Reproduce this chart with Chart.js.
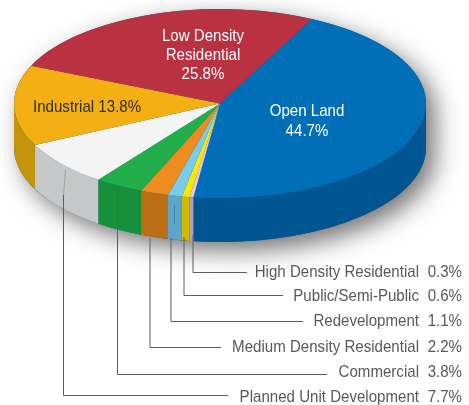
<!DOCTYPE html>
<html><head><meta charset="utf-8">
<style>html,body{margin:0;padding:0;background:#fff}canvas{display:block}</style>
<script src="https://cdn.jsdelivr.net/npm/chart.js@4/dist/chart.umd.min.js"></script>
</head><body><canvas id="c" width="469" height="405"></canvas>
<script>
const categories = ["Open Land","High Density Residential","Public/Semi-Public","Redevelopment","Medium Density Residential","Commercial","Planned Unit Development","Industrial","Low Density Residential"];
const shares = [44.7,0.3,0.6,1.1,2.2,3.8,7.7,13.8,25.8];
const topColors = ["#016FB7","#EFC5D8","#F7E900","#77CBEF","#EE8D1E","#22AE4B","#F4F4F4","#F4B013","#BA3142"];
const wallColors = ["#005591","#C09BB3","#CDBB00","#5DA5C9","#BC6F12","#17903C","#C5C7C9","#C6930C","#8E2532"];
const calloutOrder = ["High Density Residential","Public/Semi-Public","Redevelopment","Medium Density Residential","Commercial","Planned Unit Development"];

const E = {cx:220, cy:103.5, rx:206, ry:94.5, depth:44};
const FONT = '"Liberation Sans",Arial,sans-serif';
const NARROW = 0.887;
const callouts = [
  {x:193,top:235,y:272,end:247,base:277},
  {x:184,top:237,y:295,end:283,base:301},
  {x:171,top:238,y:321,end:303,base:326},
  {x:150,top:238,y:347,end:221,base:352},
  {x:117.5,top:223,y:374,end:327,base:377},
  {x:63.5,top:195,y:395,end:228,base:402}
];
const pct = n => shares[categories.indexOf(n)].toFixed(1)+'%';

function label(ctx,str,x,y,align){
  ctx.save();
  ctx.translate(x,y);
  ctx.scale(NARROW,1);
  ctx.textAlign=align;
  ctx.fillText(str,0,0);
  ctx.restore();
}
function bodyPath(ctx){
  ctx.beginPath();
  ctx.ellipse(E.cx,E.cy,E.rx,E.ry,0,Math.PI,0,false);
  ctx.lineTo(E.cx+E.rx,E.cy+E.depth);
  ctx.ellipse(E.cx,E.cy+E.depth,E.rx,E.ry,0,0,Math.PI,false);
  ctx.closePath();
}
const pie3d = {
  id:'pie3d',
  beforeDatasetsDraw(chart){
    const ctx = chart.ctx, arcs = chart.getDatasetMeta(0).data;
    ctx.save();
    ctx.shadowColor='rgba(30,30,30,0.62)'; ctx.shadowBlur=24; ctx.shadowOffsetX=9; ctx.shadowOffsetY=9;
    ctx.fillStyle='#005591'; bodyPath(ctx); ctx.fill();
    ctx.restore();
    ctx.save();
    arcs.forEach((a,i)=>{
      const lo=Math.max(a.startAngle,0), hi=Math.min(a.endAngle,Math.PI);
      const lo2=Math.max(a.startAngle-2*Math.PI,0), hi2=Math.min(a.endAngle-2*Math.PI,Math.PI);
      [[lo,hi],[lo2,hi2]].forEach(([s,e])=>{
        if(e<=s) return;
        ctx.beginPath();
        ctx.ellipse(E.cx,E.cy,E.rx,E.ry,0,s,e,false);
        ctx.ellipse(E.cx,E.cy+E.depth,E.rx,E.ry,0,e,s,true);
        ctx.closePath();
        ctx.fillStyle=wallColors[i]; ctx.fill();
      });
    });
    ctx.restore();
    const a0=arcs[0];
    ctx.save();
    ctx.translate(E.cx,E.cy);
    ctx.scale(E.rx/a0.outerRadius,E.ry/a0.outerRadius);
    ctx.translate(-a0.x,-a0.y);
  },
  afterDatasetsDraw(chart){
    const ctx=chart.ctx;
    ctx.restore();
    ctx.save();
    // faint leader continuation on the walls
    ctx.lineWidth=1;
    ctx.strokeStyle='rgba(150,150,140,0.7)';
    ctx.beginPath();ctx.moveTo(65.5,170);ctx.lineTo(63.5,196);ctx.stroke();
    ctx.strokeStyle='rgba(60,110,70,0.7)';
    ctx.beginPath();ctx.moveTo(117.5,189);ctx.lineTo(117.5,223);ctx.stroke();
    ctx.strokeStyle='rgba(70,120,150,0.8)';
    ctx.beginPath();ctx.moveTo(174.5,205);ctx.lineTo(174.5,224);ctx.stroke();
    // leaders
    ctx.strokeStyle='#5c5c5c'; ctx.lineWidth=1;
    callouts.forEach(c=>{
      ctx.beginPath();ctx.moveTo(c.x,c.top);ctx.lineTo(c.x,c.y+.5);ctx.lineTo(c.end,c.y+.5);ctx.stroke();
    });
    // callout text
    ctx.font='17px '+FONT; ctx.fillStyle='#58595B'; ctx.textBaseline='alphabetic';
    calloutOrder.forEach((n,i)=>{
      label(ctx,n,419,callouts[i].base,'right');
      label(ctx,pct(n),462,callouts[i].base,'right');
    });
    // on-slice text
    ctx.fillStyle='#fff';
    label(ctx,'Low Density',203,41,'center');
    label(ctx,'Residential',203,60,'center');
    label(ctx,pct("Low Density Residential"),203,79,'center');
    label(ctx,'Open Land',307,116,'center');
    label(ctx,pct("Open Land"),307,136,'center');
    ctx.fillStyle='#2f2f2f';
    label(ctx,'Industrial '+pct("Industrial"),33,112,'left');
    ctx.restore();
  }
};
new Chart(document.getElementById('c'),{
  type:'pie',
  data:{labels:categories,datasets:[{data:shares,backgroundColor:topColors,borderWidth:0}]},
  options:{
    responsive:false,animation:false,rotation:26.5,
    plugins:{legend:{display:false},tooltip:{enabled:false}}
  },
  plugins:[pie3d]
});
</script></body></html>
